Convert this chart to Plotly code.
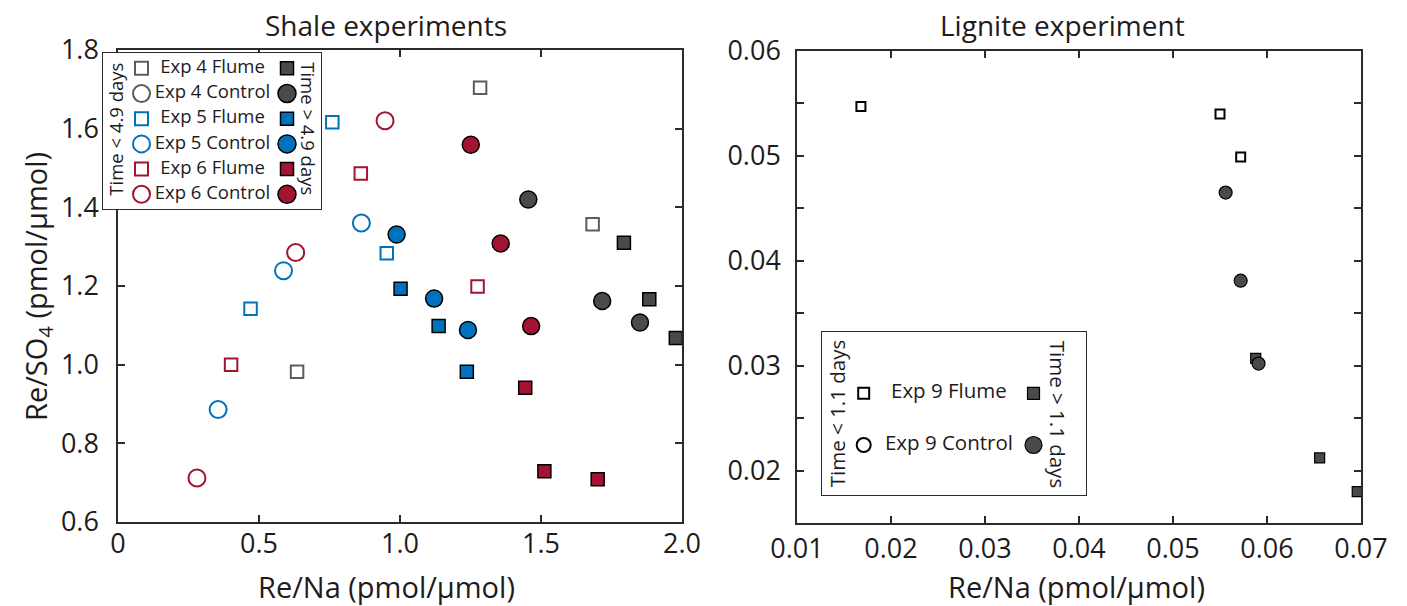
import plotly.graph_objects as go

W, H = 1407, 606

# ---------------- data: shale experiments (Re/Na, Re/SO4) ----------------
exp4_flume_early_x = [1.284, 1.683, 0.635]
exp4_flume_early_y = [1.704, 1.357, 0.982]
exp4_flume_late_x = [1.794, 1.884, 1.978]
exp4_flume_late_y = [1.310, 1.166, 1.068]
exp4_control_late_x = [1.455, 1.717, 1.851]
exp4_control_late_y = [1.420, 1.162, 1.107]

exp5_flume_early_x = [0.760, 0.953, 0.470]
exp5_flume_early_y = [1.616, 1.283, 1.142]
exp5_flume_late_x = [1.002, 1.137, 1.237]
exp5_flume_late_y = [1.193, 1.098, 0.982]
exp5_control_early_x = [0.863, 0.587, 0.355]
exp5_control_early_y = [1.360, 1.239, 0.886]
exp5_control_late_x = [0.988, 1.121, 1.241]
exp5_control_late_y = [1.331, 1.168, 1.088]

exp6_flume_early_x = [0.861, 1.275, 0.401]
exp6_flume_early_y = [1.486, 1.199, 1.000]
exp6_flume_late_x = [1.444, 1.512, 1.701]
exp6_flume_late_y = [0.941, 0.729, 0.709]
exp6_control_early_x = [0.947, 0.630, 0.280]
exp6_control_early_y = [1.620, 1.285, 0.712]
exp6_control_late_x = [1.251, 1.357, 1.465]
exp6_control_late_y = [1.559, 1.308, 1.098]

# ---------------- data: lignite experiment ----------------
exp9_flume_early_x = [0.0168, 0.0550, 0.0572]
exp9_flume_early_y = [0.0547, 0.0540, 0.0499]
exp9_flume_late_x = [0.0588, 0.0656, 0.0696]
exp9_flume_late_y = [0.0307, 0.0212, 0.0180]
exp9_control_late_x = [0.0556, 0.0572, 0.0591]
exp9_control_late_y = [0.0465, 0.0381, 0.0302]

# ---------------- tick labels ----------------
shale_x_ticks = [0, 0.5, 1.0, 1.5, 2.0]
shale_x_ticktext = ["0", "0.5", "1.0", "1.5", "2.0"]
shale_y_ticks = [0.6, 0.8, 1.0, 1.2, 1.4, 1.6, 1.8]
shale_y_ticktext = ["0.6", "0.8", "1.0", "1.2", "1.4", "1.6", "1.8"]
lig_x_ticks = [0.01, 0.02, 0.03, 0.04, 0.05, 0.06, 0.07]
lig_x_ticktext = ["0.01", "0.02", "0.03", "0.04", "0.05", "0.06", "0.07"]
lig_y_ticks = [0.02, 0.03, 0.04, 0.05, 0.06]
lig_y_ticktext = ["0.02", "0.03", "0.04", "0.05", "0.06"]
lig_y_minor_ticks = [0.025, 0.035, 0.045, 0.055]

# legend entries
shale_legend_names = ["Exp 4 Flume", "Exp 4 Control", "Exp 5 Flume",
                      "Exp 5 Control", "Exp 6 Flume", "Exp 6 Control"]
lig_legend_names = ["Exp 9 Flume", "Exp 9 Control"]

# ---------------- styles ----------------
GRAY_OPEN = "#5c5c5c"
GRAY_FILL = "#4a4a4a"
BLUE = "#0072BD"
RED = "#A2142F"
TXT = "#1e1b1c"
AX = "#2b2b2b"
FONT = "Open Sans"


def px(x):
    return x / W


def py(y):
    return 1 - y / H


fig = go.Figure()


def add_markers(x, y, symbol, fill, edge, size, lw, xa="x", ya="y"):
    fig.add_trace(go.Scatter(x=x, y=y, xaxis=xa, yaxis=ya, mode="markers",
                             marker=dict(symbol=symbol, size=size, color=fill,
                                         line=dict(color=edge, width=lw)),
                             cliponaxis=False, hoverinfo="skip"))


# ---- shale plot ----
add_markers(exp4_flume_early_x, exp4_flume_early_y, "square", "white", GRAY_OPEN, 12.5, 2)
add_markers(exp5_flume_early_x, exp5_flume_early_y, "square", "white", BLUE, 12.5, 2)
add_markers(exp5_control_early_x, exp5_control_early_y, "circle", "white", BLUE, 17, 2)
add_markers(exp6_flume_early_x, exp6_flume_early_y, "square", "white", RED, 12.5, 2)
add_markers(exp6_control_early_x, exp6_control_early_y, "circle", "white", RED, 17, 2)
add_markers(exp4_flume_late_x, exp4_flume_late_y, "square", GRAY_FILL, "black", 13, 1.5)
add_markers(exp4_control_late_x, exp4_control_late_y, "circle", GRAY_FILL, "black", 17, 1.5)
add_markers(exp5_flume_late_x, exp5_flume_late_y, "square", BLUE, "black", 13, 1.5)
add_markers(exp5_control_late_x, exp5_control_late_y, "circle", BLUE, "black", 17, 1.5)
add_markers(exp6_flume_late_x, exp6_flume_late_y, "square", RED, "black", 13, 1.5)
add_markers(exp6_control_late_x, exp6_control_late_y, "circle", RED, "black", 17, 1.5)

# ---- lignite plot ----
add_markers(exp9_flume_early_x, exp9_flume_early_y, "square", "white", "black", 9, 2, "x2", "y2")
add_markers(exp9_flume_late_x, exp9_flume_late_y, "square", GRAY_FILL, "black", 10, 1.2, "x2", "y2")
add_markers(exp9_control_late_x, exp9_control_late_y, "circle", GRAY_FILL, "black", 13, 1.2, "x2", "y2")

# ---- shale legend (own axes: column 0 = open, column 1 = filled; rows 0..5) ----
shale_colors = [GRAY_OPEN, GRAY_OPEN, BLUE, BLUE, RED, RED]
shale_fill_colors = [GRAY_FILL, GRAY_FILL, BLUE, BLUE, RED, RED]
rows = list(range(len(shale_legend_names)))
for i in rows:
    if i % 2 == 0:
        add_markers([0], [i], "square", "white", shale_colors[i], 13, 2, "x3", "y3")
        add_markers([1], [i], "square", shale_fill_colors[i], "black", 13, 1.5, "x3", "y3")
    else:
        add_markers([0], [i], "circle", "white", shale_colors[i], 17, 2, "x3", "y3")
        add_markers([1], [i], "circle", shale_fill_colors[i], "black", 18, 1.5, "x3", "y3")
fig.add_trace(go.Scatter(x=[0.488] * len(rows), y=rows, xaxis="x3", yaxis="y3",
                         mode="text", text=shale_legend_names,
                         textfont=dict(size=18.5, color=TXT, family=FONT),
                         cliponaxis=False, hoverinfo="skip"))

# ---- lignite legend ----
add_markers([0], [0], "square", "white", "black", 11, 2, "x4", "y4")
add_markers([1], [0], "square", GRAY_FILL, "black", 12, 1.2, "x4", "y4")
add_markers([0], [1], "circle", "white", "black", 14, 2, "x4", "y4")
add_markers([1], [1], "circle", GRAY_FILL, "black", 17, 1.2, "x4", "y4")
fig.add_trace(go.Scatter(x=[0.502, 0.502], y=[0, 1], xaxis="x4", yaxis="y4",
                         mode="text", text=lig_legend_names,
                         textfont=dict(size=20.5, color=TXT, family=FONT),
                         cliponaxis=False, hoverinfo="skip"))

axis_common = dict(showline=True, mirror="ticks", linecolor=AX, linewidth=1.5,
                   ticks="inside", ticklen=7, tickwidth=1.5, tickcolor=AX,
                   showgrid=False, zeroline=False, automargin=False,
                   tickfont=dict(size=27, color=TXT, family=FONT))

# legend box geometry (pixels)
L1 = dict(x0=103, x1=321, y0=53, y1=209, cx0=141.5, cx1=287, ry0=68.3, rdy=25.2)
L2 = dict(x0=822, x1=1086, y0=332, y1=495, cx0=863.7, cx1=1033.5, ry0=393.3, rdy=51.7)


def legend_axes(L):
    s = L["cx1"] - L["cx0"]
    base = dict(showline=True, mirror=True, linecolor=AX, linewidth=1.2,
                ticks="", showticklabels=False, showgrid=False, zeroline=False,
                fixedrange=True, automargin=False)
    xa = dict(domain=[px(L["x0"]), px(L["x1"])],
              range=[(L["x0"] - L["cx0"]) / s, (L["x1"] - L["cx0"]) / s], **base)
    ya = dict(domain=[py(L["y1"]), py(L["y0"])],
              range=[(L["y1"] - L["ry0"]) / L["rdy"], (L["y0"] - L["ry0"]) / L["rdy"]],
              **base)
    return xa, ya


x3, y3 = legend_axes(L1)
x4, y4 = legend_axes(L2)

fig.update_layout(
    width=W, height=H, autosize=False,
    margin=dict(l=0, r=0, t=0, b=0, pad=0),
    paper_bgcolor="white", plot_bgcolor="white",
    showlegend=False,
    font=dict(family=FONT, color=TXT),
    xaxis=dict(domain=[px(118), px(682)], range=[0, 2.0], anchor="y",
               tickvals=shale_x_ticks, ticktext=shale_x_ticktext,
               ticklabelstandoff=-3, **axis_common),
    yaxis=dict(domain=[py(522), py(50)], range=[0.6, 1.8], anchor="x",
               tickvals=shale_y_ticks, ticktext=shale_y_ticktext,
               ticklabelstandoff=12, **axis_common),
    xaxis2=dict(domain=[px(797), px(1361)], range=[0.01, 0.07], anchor="y2",
                tickvals=lig_x_ticks, ticktext=lig_x_ticktext,
                ticklabelstandoff=1, **axis_common),
    yaxis2=dict(domain=[py(523), py(51)], range=[0.015, 0.06], anchor="x2",
                tickvals=lig_y_ticks, ticktext=lig_y_ticktext,
                minor=dict(tickvals=lig_y_minor_ticks, ticks="inside", ticklen=7,
                           tickwidth=1.5, tickcolor=AX, showgrid=False),
                ticklabelstandoff=9, **axis_common),
    xaxis3=dict(anchor="y3", **x3),
    yaxis3=dict(anchor="x3", **y3),
    xaxis4=dict(anchor="y4", **x4),
    yaxis4=dict(anchor="x4", **y4),
)

# white fill of the legend boxes (drawn in legend subplots, over main axes lines)
for xr, yr in (("x3", "y3"), ("x4", "y4")):
    fig.add_shape(type="rect", xref=f"{xr} domain", yref=f"{yr} domain",
                  x0=0, x1=1, y0=0, y1=1, fillcolor="white",
                  line=dict(width=0), layer="below")

ann = []


def text(x, y, t, size, angle=0):
    ann.append(dict(x=px(x), y=py(y), xref="paper", yref="paper", text=t,
                    showarrow=False, textangle=angle, xanchor="center",
                    yanchor="middle", font=dict(size=size, color=TXT, family=FONT)))


text(386, 25, "Shale experiments", 28)
text(1062, 25, "Lignite experiment", 28)
text(386, 586, "Re/Na (pmol/μmol)", 29)
text(1076, 586, "Re/Na (pmol/μmol)", 29)
text(37, 287, "Re/SO<sub>4</sub> (pmol/μmol)", 29, -90)
text(115.7, 129, "Time &lt; 4.9 days", 18.5, -90)
text(308.3, 128.5, "Time &gt; 4.9 days", 18.5, 90)
text(836.7, 413.5, "Time &lt; 1.1 days", 20.5, -90)
text(1058.3, 414, "Time &gt; 1.1 days", 20.5, 90)
fig.update_layout(annotations=ann)

fig.write_html("out.html", config={"displayModeBar": False},
               post_script="document.body.style.margin='0';")
